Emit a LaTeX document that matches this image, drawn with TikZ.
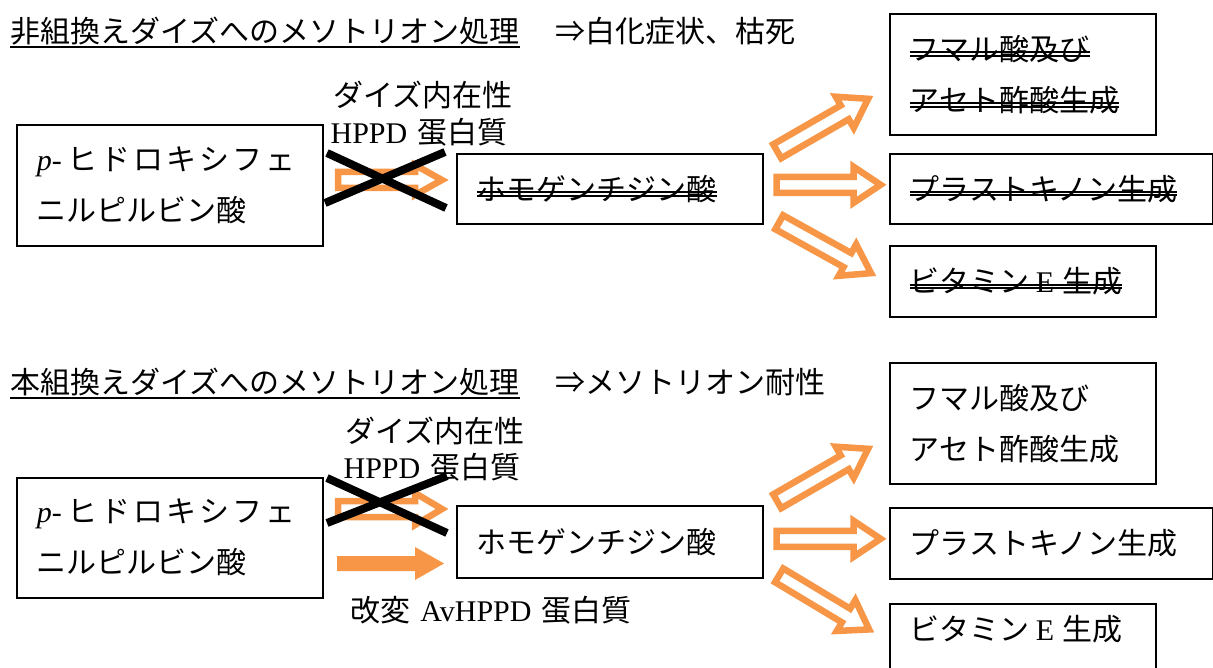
\documentclass[tikz,border=0pt]{standalone}
\usepackage{fontspec}
\setmainfont{Noto Sans CJK JP}
\newfontfamily\tm{Liberation Serif}
\usetikzlibrary{calc}
\definecolor{org}{HTML}{F79646}
\newsavebox\strkbox
\newcommand\dstrike[1]{\leavevmode\sbox\strkbox{#1}\rlap{\rule[0.12em]{\wd\strkbox}{2pt}}\rlap{\rule[0.225em]{\wd\strkbox}{2pt}}\usebox\strkbox}
\def\hh{18}
\newcommand\blockarr[3]{%
  \draw[hollowarr,shift={#1},rotate=#2] (3,-8) -- ({#3-33},-8) -- ({#3-33},-\hh) -- ({#3-6},0) -- ({#3-33},\hh) -- ({#3-33},8) -- (3,8) -- cycle;}
\newcommand\katarow{\makebox[33pt]{ヒ}\makebox[33pt]{ド}\makebox[33pt]{ロ}\makebox[33pt]{キ}\makebox[33pt]{シ}\makebox[33pt]{フ}\makebox[33pt]{ェ}}
\tikzset{
  hollowarr/.style={draw=org, line width=6.5pt, fill=white, line join=miter, miter limit=10},
  box/.style={draw=black, line width=1.6pt, inner xsep=20pt, inner ysep=0pt, align=left, anchor=north west},
  txt/.style={inner sep=0pt},
  cross/.style={line width=8pt, draw=black},
  uline/.style={line width=1.5pt, draw=black},
}
\begin{document}
\begin{tikzpicture}[x=1pt,y=-1pt,font=\fontsize{30pt}{51pt}\selectfont]
\useasboundingbox (0,0) rectangle (1213,668);
% ---------------- top section ----------------
\node[txt,anchor=base west] (t1) at (10,42.5) {非組換えダイズへのメソトリオン処理};
\draw[uline] ([yshift=-4.5pt]t1.base west) -- ([yshift=-4.5pt]t1.base east);
\node[txt,anchor=base west] (r1) at (555,42.5) {⇒白化症状、枯死};

\node[box,text width=266pt,minimum width=306pt,minimum height=121pt] (a1) at (16,124)
  {{\tm\itshape p-}\hspace{4pt}\katarow\\ニルピルビン酸};
\node[box,text width=266pt,minimum width=306pt,minimum height=70pt] (a2) at (456,153)
  {\dstrike{ホモゲンチジン酸}};

\node[txt] (l1) at (423,95) {ダイズ内在性};
\node[txt] (l2) at (419,132) {{\tm HPPD}\hspace{10pt}蛋白質};

{\def\hh{15}\blockarr{(335,180)}{0}{113}}
\draw[cross] (327,153) -- (446,208);
\draw[cross] (325,203) -- (445,152);

\blockarr{($(a2.east)+(11,-36)$)}{30}{114}
\blockarr{($(a2.east)+(10,-4)$)}{0}{113}
\blockarr{($(a2.east)+(13,32)$)}{-29}{114}

\node[box,text width=226pt,minimum width=266pt,minimum height=121pt] (a3) at (889,13)
  {\dstrike{フマル酸及び}\\\dstrike{アセト酢酸生成}};
\node[box,text width=283pt,minimum width=323pt,minimum height=70pt] (a4) at (889,153)
  {\dstrike{プラストキノン生成}};
\node[box,text width=226pt,minimum width=266pt,minimum height=71pt] (a5) at (889,245)
  {\dstrike{ビタミン\hspace{6pt}{\tm E}\hspace{8pt}生成}};

% ---------------- bottom section ----------------
\node[txt,anchor=base west] (t2) at (10,393.5) {本組換えダイズへのメソトリオン処理};
\draw[uline] ([yshift=-4.5pt]t2.base west) -- ([yshift=-4.5pt]t2.base east);
\node[txt,anchor=base west] (r2) at (555,393.5) {⇒メソトリオン耐性};

\node[box,text width=266pt,minimum width=306pt,minimum height=120pt] (b1) at (16,477)
  {{\tm\itshape p-}\hspace{4pt}\katarow\\ニルピルビン酸};
\node[box,text width=266pt,minimum width=306pt,minimum height=72pt] (b2) at (456,505)
  {ホモゲンチジン酸};

\node[txt] (l3) at (435,431) {ダイズ内在性};
\node[txt] (l4) at (432,467) {{\tm HPPD}\hspace{10pt}蛋白質};

{\def\hh{16}\blockarr{(335,509)}{0}{113}}
\draw[cross] (327,478) -- (447,533);
\draw[cross] (327,523) -- (447,476);

\fill[org] (337,556) -- (415,556) -- (415,547) -- (444,563.5) -- (415,580) -- (415,571) -- (337,571) -- cycle;
\node[txt] (l5) at (491,610) {改変\hspace{10pt}{\tm AvHPPD}\hspace{10pt}蛋白質};

\blockarr{($(b2.east)+(11,-39)$)}{30}{114}
\blockarr{($(b2.east)+(10,-3)$)}{0}{113}
\blockarr{($(b2.east)+(13,32)$)}{-31}{114}

\node[box,text width=226pt,minimum width=266pt,minimum height=121pt] (b3) at (889,362)
  {フマル酸及び\\アセト酢酸生成};
\node[box,text width=283pt,minimum width=323pt,minimum height=71pt] (b4) at (889,507)
  {プラストキノン生成};
\node[box,text width=226pt,minimum width=266pt,inner ysep=11pt,text depth=50pt] (b5) at (889,603)
  {ビタミン\hspace{6pt}{\tm E}\hspace{8pt}生成};
\end{tikzpicture}
\end{document}
